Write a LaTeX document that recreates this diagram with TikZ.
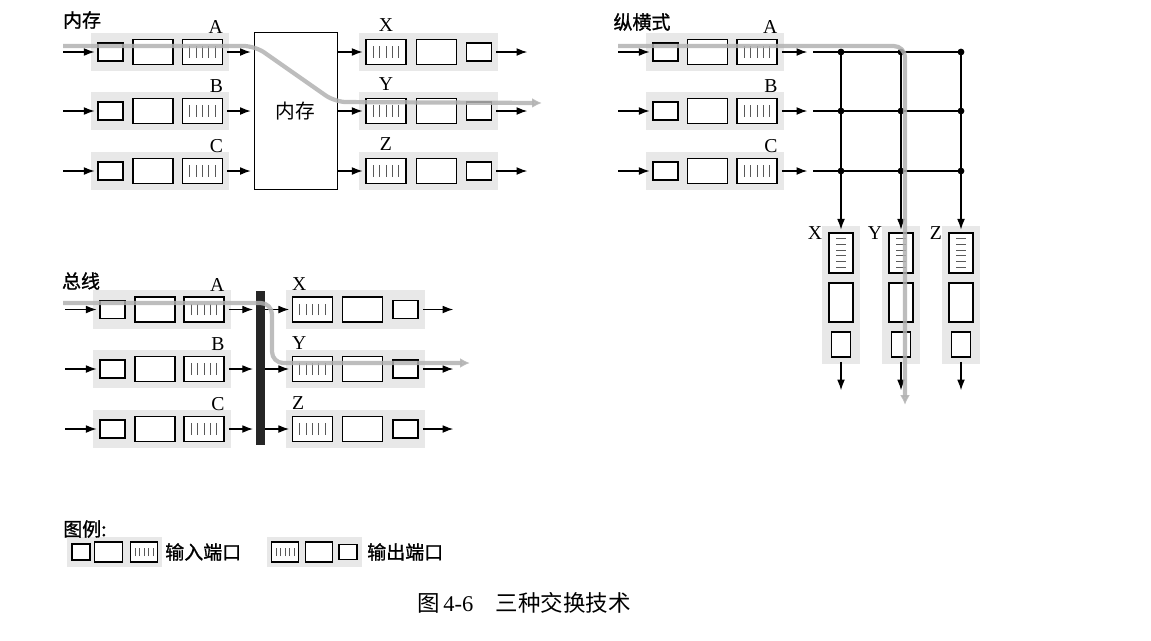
\documentclass[tikz,border=0pt]{standalone}
\usepackage{fontspec}
\setmainfont{Liberation Serif}
\newfontfamily\cjk{Noto Sans CJK SC}
\newfontfamily\cjkb{Noto Sans CJK SC}[FakeBold=1.2]
\usetikzlibrary{arrows.meta,backgrounds}

\tikzset{
  box/.style={draw, line width=0.95pt, fill=white, inner sep=0pt},
  sbox/.style={box, minimum width=0.625cm, minimum height=0.45cm},
  mbox/.style={box, minimum width=1cm, minimum height=0.625cm},
  stripe/.style={black!65, line width=0.65pt},
  qbox/.style={mbox, path picture={
    \foreach \k in {-2,...,2}
      \draw[stripe] ([xshift=\k*4.5pt, yshift=-4pt]path picture bounding box.center) -- ++(0,8pt);}},
  vsbox/.style={box, minimum width=0.475cm, minimum height=0.625cm},
  vmbox/.style={box, minimum width=0.6cm, minimum height=0.975cm},
  vqbox/.style={box, minimum width=0.6cm, minimum height=1cm, path picture={
    \foreach \k in {-2.5,-1.5,...,2.5}
      \draw[stripe] ([xshift=-3.5pt, yshift=\k*4pt]path picture bounding box.center) -- ++(7pt,0);}},
  lsbox/.style={box, line width=0.8pt, minimum width=0.45cm, minimum height=0.4cm},
  lmbox/.style={box, line width=0.8pt, minimum width=0.68cm, minimum height=0.5cm},
  lqbox/.style={lmbox, path picture={
    \foreach \k in {-2,...,2}
      \draw[stripe, line width=0.45pt] ([xshift=\k*3.2pt, yshift=-3pt]path picture bounding box.center) -- ++(0,6pt);}},
  membox/.style={draw, line width=0.7pt, fill=white, minimum width=2.075cm, minimum height=3.9cm,
    font=\cjk\fontsize{14}{16}\selectfont},
  busbar/.style={fill=black!85, inner sep=0pt, minimum width=0.225cm, minimum height=3.85cm},
  dot/.style={circle, fill, inner sep=0pt, minimum size=0.17cm},
  wire/.style={line width=1pt},
  arr/.style={-{Latex[length=7.5pt,width=5.5pt]}, line width=0.75pt, shorten >=2pt, shorten <=3pt},
  route/.style={draw=black!30, line width=3pt, opacity=0.85, rounded corners=8pt,
    -{Latex[length=7pt,width=7pt]}},
  halo/.style={fill=black!9},
  lbl/.style={inner sep=0pt, font=\fontsize{14}{16}\selectfont},
  ttl/.style={inner sep=0pt, font=\cjkb\fontsize{13.5}{16}\selectfont},
}

\begin{document}
\begin{tikzpicture}[x=0.025cm, y=-0.025cm]
\useasboundingbox (0,0) rectangle (1151,640);

% memory
\node[ttl] (tmem) at (82,20) {内存};
\node[membox] (mem) at (295.5,111) {内存};
\foreach \r/\y in {A/52,B/111,C/171} {
  \coordinate (mi\r) at (59,\y);
  \node[sbox] (m\r1) at (110.5,\y) {};
  \node[mbox] (m\r2) at (153,\y) {};
  \node[qbox] (m\r3) at (202.5,\y) {};
  \node[lbl, anchor=south east] (ml\r) at ([yshift=3.5pt]m\r3.north east) {\r};
  \draw[arr] (mi\r) -- (m\r1);
  \draw[arr] (m\r3) -- (m\r3 -| mem.west);
  \begin{scope}[on background layer]
    \fill[halo] ([shift={(-6,6)}]m\r1.west |- m\r3.south) rectangle ([shift={(6,-6)}]m\r3.north east);
  \end{scope}
}
\foreach \r/\y in {X/52,Y/111,Z/171} {
  \node[qbox] (m\r1) at (386,\y) {};
  \node[mbox] (m\r2) at (436.5,\y) {};
  \node[sbox] (m\r3) at (479,\y) {};
  \coordinate (mo\r) at (530,\y);
  \node[lbl, anchor=south] (ml\r) at ([yshift=5pt]m\r1.north) {\r};
  \draw[arr, shorten <=0pt] (mem.east |- m\r1) -- (m\r1);
  \draw[arr] (m\r3) -- (mo\r);
  \begin{scope}[on background layer]
    \fill[halo] ([shift={(-6,6)}]m\r1.south west) rectangle ([shift={(6,-6)}]m\r3.east |- m\r1.north);
  \end{scope}
}
\draw[route] (63,46) -- (255,46) -- (335,102) -- (542,103);

% crossbar
\node[ttl] (tcb) at (642,22) {纵横式};
\foreach \r/\y in {A/52,B/111,C/171} {
  \coordinate (ci\r) at (614,\y);
  \node[sbox] (c\r1) at (665.5,\y) {};
  \node[mbox] (c\r2) at (707.5,\y) {};
  \node[qbox] (c\r3) at (757,\y) {};
  \coordinate (co\r) at (810,\y);
  \coordinate (cg\r) at (813,\y);
  \node[dot] (x\r1) at (841,\y) {};
  \node[dot] (x\r2) at (901,\y) {};
  \node[dot] (x\r3) at (961,\y) {};
  \node[lbl, anchor=south east] (cl\r) at ([yshift=3.5pt]c\r3.north east) {\r};
  \draw[arr] (ci\r) -- (c\r1);
  \draw[arr] (c\r3) -- (co\r);
  \draw[wire] (cg\r) -- (x\r3.center);
  \begin{scope}[on background layer]
    \fill[halo] ([shift={(-6,6)}]c\r1.west |- c\r3.south) rectangle ([shift={(6,-6)}]c\r3.north east);
  \end{scope}
}
\foreach \r/\cx/\n in {X/841/1,Y/901/2,Z/961/3} {
  \node[vqbox] (c\r1) at (\cx,253) {};
  \node[vmbox] (c\r2) at (\cx,302.5) {};
  \node[vsbox] (c\r3) at (\cx,344.5) {};
  \coordinate (co\r) at (\cx,393);
  \node[lbl, anchor=east] (cl\r) at ([xshift=-4.3pt, yshift=-0.7pt]c\r1.north west) {\r};
  \draw[wire] (xA\n.center) -- (xC\n.center);
  \draw[arr, shorten <=0pt] (xC\n.center) -- (c\r1);
  \draw[arr] (c\r3) -- (co\r);
  \begin{scope}[on background layer]
    \fill[halo] ([shift={(-6,6)}]c\r1.west |- c\r3.south) rectangle ([shift={(6,-6)}]c\r1.north east);
  \end{scope}
}
\draw[route] (618,46) -- (905,46) -- (905,405);

% bus
\node[ttl] (tbus) at (81,281) {总线};
\node[busbar] (bus) at (260.5,368) {};
\foreach \r/\y in {A/309.5,B/369,C/429} {
  \coordinate (bi\r) at (61,\y);
  \node[sbox] (b\r1) at (112.5,\y) {};
  \node[mbox] (b\r2) at (155,\y) {};
  \node[qbox] (b\r3) at (204,\y) {};
  \node[lbl, anchor=south east] (bl\r) at ([yshift=3.5pt]b\r3.north east) {\r};
  \draw[arr] (bi\r) -- (b\r1);
  \draw[arr] (b\r3) -- (b\r3 -| bus.west);
  \begin{scope}[on background layer]
    \fill[halo] ([shift={(-6,6)}]b\r1.west |- b\r3.south) rectangle ([shift={(6,-6)}]b\r3.north east);
  \end{scope}
}
\foreach \r/\y in {X/309.5,Y/369,Z/429} {
  \node[qbox] (b\r1) at (312.5,\y) {};
  \node[mbox] (b\r2) at (362.5,\y) {};
  \node[sbox] (b\r3) at (405.5,\y) {};
  \coordinate (bo\r) at (456,\y);
  \node[lbl, anchor=south west] (bl\r) at ([yshift=4pt]b\r1.north west) {\r};
  \draw[arr, shorten <=0pt] (bus.east |- b\r1) -- (b\r1);
  \draw[arr] (b\r3) -- (bo\r);
  \begin{scope}[on background layer]
    \fill[halo] ([shift={(-6,6)}]b\r1.south west) rectangle ([shift={(6,-6)}]b\r3.east |- b\r1.north);
  \end{scope}
}
\draw[route] (63,303) -- (272,303) -- (272,363) -- (470,363);

% legend
\node[ttl, anchor=west] (tleg) at (63,529) {图例:};
\node[lsbox] (lg1) at (81,552) {};
\node[lmbox] (lg2) at (108.5,552) {};
\node[lqbox] (lg3) at (144,552) {};
\node[ttl, anchor=west] (lgin) at (165,552) {输入端口};
\node[lqbox] (lg4) at (285,552) {};
\node[lmbox] (lg5) at (319,552) {};
\node[lsbox, minimum height=0.36cm] (lg6) at (348,552) {};
\node[ttl, anchor=west] (lgout) at (367,552) {输出端口};
\begin{scope}[on background layer]
  \fill[halo] ([shift={(-4,4)}]lg1.west |- lg3.south) rectangle ([shift={(4,-4)}]lg3.north east);
  \fill[halo] ([shift={(-4,4)}]lg4.south west) rectangle ([shift={(4,-4)}]lg6.east |- lg4.north);
\end{scope}

% caption
\node[inner sep=0pt, font=\fontsize{16}{18}\selectfont] (cap) at (524,603) {{\cjk 图}\,4-6\quad{\cjk 三种交换技术}};
\end{tikzpicture}
\end{document}
